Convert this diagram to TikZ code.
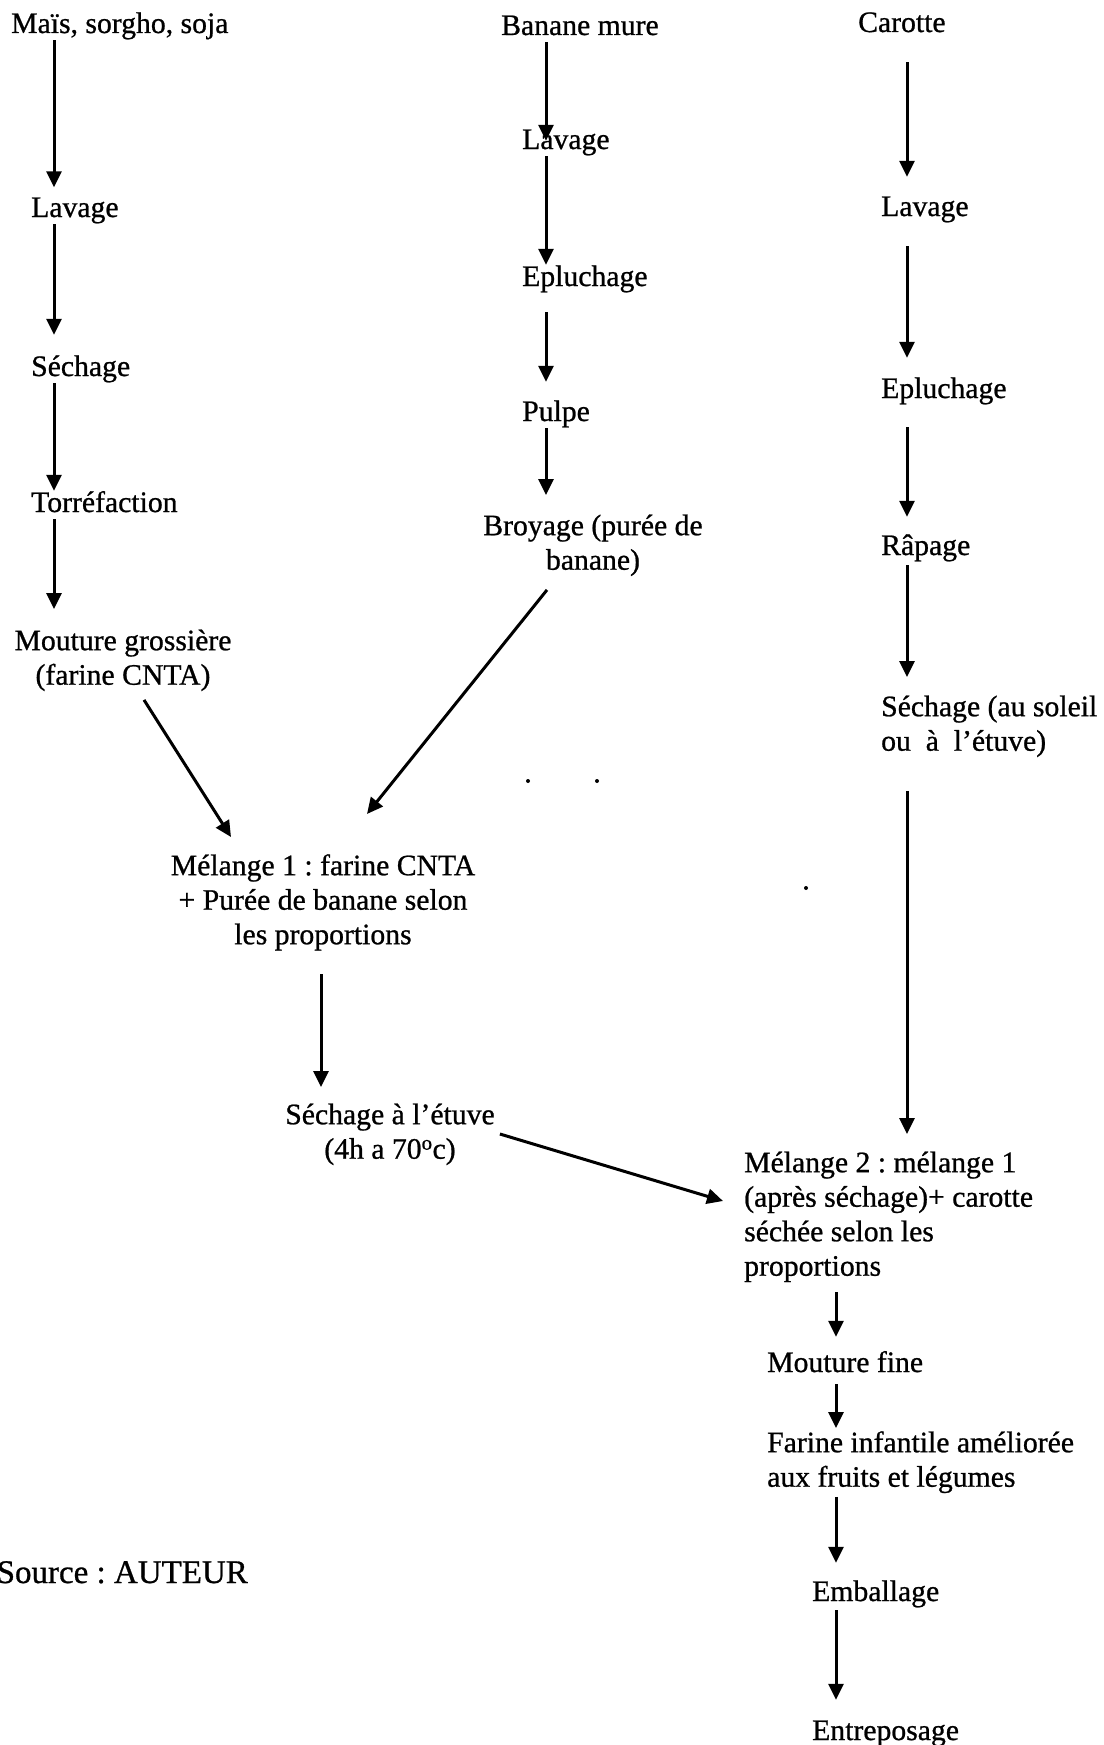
\documentclass[tikz,border=0pt]{standalone}
\usepackage{fontspec}
\setmainfont[FakeBold=0.8]{Liberation Serif}
\usetikzlibrary{arrows.meta}
\newcommand{\fstr}{\rule{0pt}{21pt}}
\newcommand{\lstr}{\rule[-7pt]{0pt}{7pt}}
\frenchspacing
\begin{document}
\begin{tikzpicture}[x=1pt,y=-1pt,
  every node/.style={inner sep=0pt, font=\fontsize{29.7pt}{34.5pt}\selectfont\frenchspacing},
  lbl/.style={text height=21pt,text depth=7pt,anchor=base west},
  mlc/.style={align=center,anchor=north},
  mll/.style={align=left,anchor=north west},
  arr/.style={line width=3pt,-{Triangle[length=16pt,width=15pt]}}]
\useasboundingbox (0,0) rectangle (1103,1745);

% column coordinates
\coordinate (cL) at (54,0);
\coordinate (cM) at (546,0);
\coordinate (cR) at (907,0);
\coordinate (cC) at (321,0);
\coordinate (cB) at (836,0);

% left column
\node[lbl] (m1) at (11,33) {Maïs, sorgho, soja};
\node[lbl] (l1) at (31,217) {Lavage};
\node[lbl] (l2) at (31,376) {Séchage};
\node[lbl] (l3) at (31,512) {Torréfaction};
\node[mlc] (l4) at (123,629) {\fstr Mouture grossière\\(farine CNTA)\lstr};

% middle column
\node[lbl] (ban) at (501,35) {Banane mure};
\node[lbl] (ml1) at (522,149) {Lavage};
\node[lbl] (ml2) at (522,286) {Epluchage};
\node[lbl] (ml3) at (522,421) {Pulpe};
\node[mlc] (broy) at (593,514) {\fstr Broyage (purée de\\banane)\lstr};

% right column
\node[lbl] (car) at (858,32) {Carotte};
\node[lbl] (rl1) at (881,216) {Lavage};
\node[lbl] (rl2) at (881,398) {Epluchage};
\node[lbl] (rl3) at (881,555) {Râpage};
\node[mll] (rl4) at (881,695) {\fstr Séchage (au soleil\\ou\ \ à\ \ l’étuve)\lstr};

% mixing
\node[mlc] (mel1) at (323,854) {\fstr Mélange 1 : farine CNTA\\+ Purée de banane selon\\les proportions\lstr};
\node[mlc] (sech) at (390,1103) {\fstr Séchage à l’étuve\\(4h a 70\textsuperscript{o}c)\lstr};
\node[mll] (mel2) at (744,1151) {\fstr Mélange 2 : mélange 1\\(après séchage)+ carotte\\séchée selon les\\proportions\lstr};
\node[lbl] (mf) at (767,1372) {Mouture fine};
\node[mll] (far) at (767,1431) {\fstr Farine infantile améliorée\\aux fruits et légumes\lstr};
\node[lbl] (emb) at (812,1601) {Emballage};
\node[lbl] (ent) at (812,1740) {Entreposage};
\node[lbl,anchor=base east,font=\fontsize{33pt}{38pt}\selectfont\frenchspacing] (src) at (248,1583) {Source : AUTEUR};

% left arrows
\draw[arr,shorten >=8.5pt] (m1.south -| cL) -- (l1.north -| cL);
\draw[arr,shorten >=20pt] (l1.south -| cL) -- (l2.north -| cL);
\draw[arr] (l2.south -| cL) -- (l3.north -| cL);
\draw[arr,shorten >=20pt] (l3.south -| cL) -- (l4.north -| cL);

% middle arrows
\draw[arr,shorten >=-13pt] (ban.south -| cM) -- (ml1.north -| cM);
\draw[arr] (ml1.south -| cM) -- (ml2.north -| cM);
\draw[arr,shorten <=19pt,shorten >=18pt] (ml2.south -| cM) -- (ml3.north -| cM);
\draw[arr,shorten >=19pt] (ml3.south -| cM) -- (broy.north -| cM);

% right arrows
\draw[arr,shorten <=23pt,shorten >=18pt] (car.south -| cR) -- (rl1.north -| cR);
\draw[arr,shorten <=23pt,shorten >=19pt] (rl1.south -| cR) -- (rl2.north -| cR);
\draw[arr,shorten <=22pt,shorten >=17pt] (rl2.south -| cR) -- (rl3.north -| cR);
\draw[arr,shorten <=3pt,shorten >=18pt] (rl3.south -| cR) -- (rl4.north -| cR);
\draw[arr,shorten <=33pt,shorten >=17pt] (rl4.south -| cR) -- (mel2.north -| cR);

% diagonals
\draw[arr] ([xshift=21pt,yshift=-8pt]l4.south) -- ([xshift=-92pt,yshift=17pt]mel1.north);
\draw[arr] ([xshift=-46pt,yshift=-13pt]broy.south) -- ([xshift=44pt,yshift=40pt]mel1.north);
\draw[arr,shorten <=23pt,shorten >=16pt] (mel1.south -| cC) -- (sech.north -| cC);
\draw[arr] ([xshift=5pt,yshift=-31pt]sech.north east) -- ([xshift=-21pt,yshift=-50pt]mel2.north west);

% bottom arrows
\draw[arr,shorten <=9.5pt,shorten >=14pt] (mel2.south -| cB) -- (mf.north -| cB);
\draw[arr,shorten <=5pt,shorten >=3pt] (mf.south -| cB) -- (far.north -| cB);
\draw[arr,shorten <=3pt,shorten >=17pt] (far.south -| cB) -- (emb.north -| cB);
\draw[arr,shorten <=2pt,shorten >=19pt] (emb.south -| cB) -- (ent.north -| cB);

% scan specks
\fill (528,781) circle (2);
\fill (597,781) circle (2);
\fill (806,888) circle (2);
\end{tikzpicture}
\end{document}
